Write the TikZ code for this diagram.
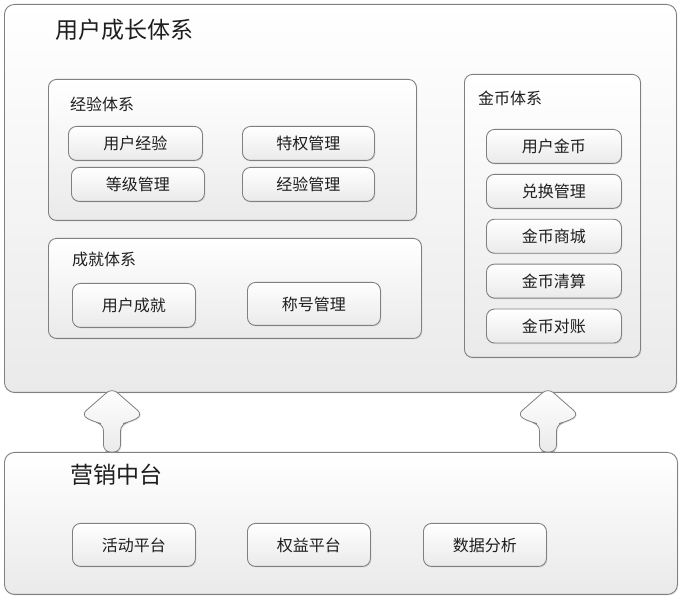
\documentclass[tikz,border=0pt]{standalone}
\usepackage{fontspec}
\newfontfamily\cjk{Noto Sans CJK SC}
\usetikzlibrary{positioning, shadows, calc}
\definecolor{edgegray}{RGB}{128,128,128}
\definecolor{fillgray}{RGB}{234,234,234}
\definecolor{textgray}{RGB}{30,30,30}

\tikzset{
  liftarrow/.pic={
    \draw[arrowbody] (0,0) -- (-8.5,0) -- (-8.5,-28) -- (-18,-30) -- (-31,-37)
      -- (0,-64) -- (31,-37) -- (18,-30) -- (8.5,-28) -- (8.5,0) -- cycle;
  }
}

\begin{document}
\begin{tikzpicture}[
  x=1pt, y=-1pt,
  soft/.style={draw=edgegray, line width=0.9pt, top color=white, bottom color=fillgray,
               drop shadow={shadow xshift=1pt, shadow yshift=-1pt, opacity=0.25, fill=black!40}},
  panel/.style={soft, rounded corners=10pt, anchor=north west, inner sep=0pt},
  group/.style={panel, rounded corners=8pt},
  item/.style={soft, rounded corners=8pt, anchor=north west, inner sep=0pt,
               minimum width=133pt, minimum height=34pt, text=textgray,
               font=\cjk\fontsize{16}{18}\selectfont},
  title/.style={anchor=west, inner sep=0pt, text=textgray, font=\cjk\fontsize{23}{26}\selectfont},
  caption/.style={anchor=west, inner sep=0pt, text=textgray, font=\cjk\fontsize{16}{18}\selectfont},
  arrowbody/.style={soft, line width=0.8pt, rounded corners=7pt},
  node distance=10pt
]
  \useasboundingbox (0,0) rectangle (681,601);

  % user growth system
  \node[panel, minimum width=672pt, minimum height=388pt] (grow) at (4,4) {};
  \node[title] (growtxt) at (55,30) {用户成长体系};

  \node[group, minimum width=368pt, minimum height=141pt] (expgrp) at (48,79) {};
  \node[caption] (exptxt) at (70,104) {经验体系};
  \node[item, minimum width=134pt] (userexp) at (68,126) {用户经验};
  \node[item, minimum width=132pt] (privmgr) at (242,126) {特权管理};
  \node[item] (levelmgr) at (71,167) {等级管理};
  \node[item, minimum width=132pt] (expmgr) at (242,167) {经验管理};

  \node[group, minimum width=373pt, minimum height=100pt] (achgrp) at (48,238) {};
  \node[caption] (achtxt) at (72,259) {成就体系};
  \node[item, minimum width=123pt, minimum height=44pt] (userach) at (72,283) {用户成就};
  \node[item, minimum height=43pt] (titlemgr) at (247,282) {称号管理};

  \node[group, minimum width=176pt, minimum height=283pt] (coingrp) at (464,74) {};
  \node[caption] (cointxt) at (478,98) {金币体系};
  \node[item, minimum width=135pt] (usercoin) at (486,129) {用户金币};
  \node[item, minimum width=135pt, below=of usercoin] (exchmgr) {兑换管理};
  \node[item, minimum width=135pt, below=of exchmgr] (coinshop) {金币商城};
  \node[item, minimum width=135pt, below=of coinshop] (coinclear) {金币清算};
  \node[item, minimum width=135pt, below=of coinclear] (coincheck) {金币对账};

  % marketing platform
  \node[panel, minimum width=673pt, minimum height=142pt] (mkt) at (4,452) {};
  \node[title] (mkttxt) at (70,475) {营销中台};
  \node[item, minimum width=123pt, minimum height=43pt] (activity) at (72,523) {活动平台};
  \node[item, minimum width=123pt, minimum height=43pt] (rights) at (247,523) {权益平台};
  \node[item, minimum width=123pt, minimum height=43pt] (analysis) at (423,523) {数据分析};

  % support arrows
  \coordinate (liftA) at ($(mkt.north west)+(108,0)$);
  \coordinate (liftB) at ($(mkt.north west)+(544,0)$);
  \pic at (liftA) {liftarrow};
  \pic at (liftB) {liftarrow};

\end{tikzpicture}
\end{document}
